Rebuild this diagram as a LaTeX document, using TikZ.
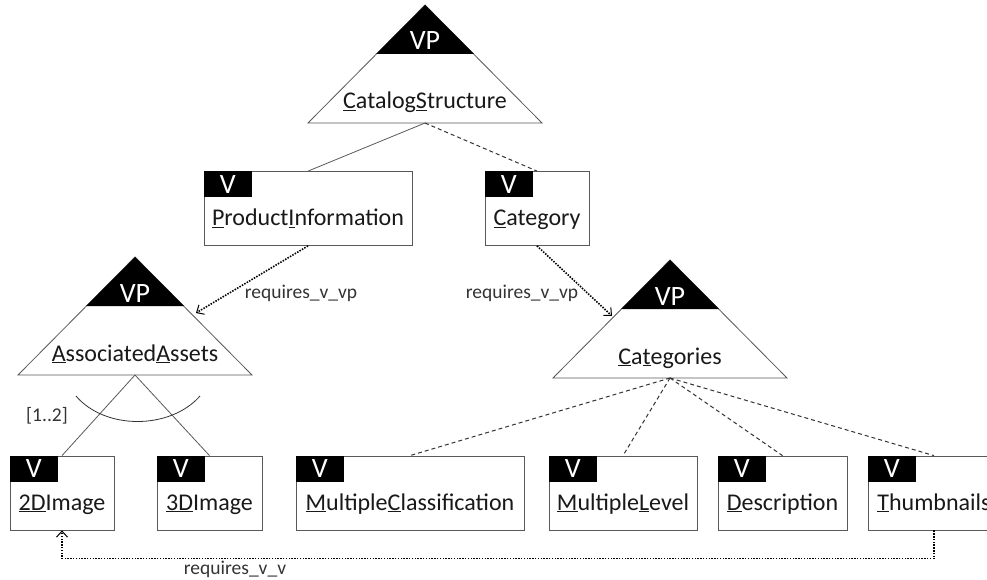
\documentclass[tikz,border=0pt]{standalone}
\usepackage{fontspec}
\setmainfont{Carlito}
\usetikzlibrary{arrows.meta,calc}

\newcommand{\ulc}[1]{\underline{#1}}
% variation point: triangle with black VP cap, apex at (#2,#3)
\newcommand{\vpnode}[4]{%
  \coordinate (#1) at (#2,#3);
  \coordinate (#1Base) at ($(#1)+(0,118)$);
  \coordinate (#1Left) at ($(#1)+(-58,56)$);
  \coordinate (#1Right) at ($(#1)+(61,56)$);
  \draw[edge,fill=white] (#1) -- ++(-117,118) -- ++(234,0) -- cycle;
  \fill[black] (#1) -- ++(-49,49) -- ++(98,0) -- cycle;
  \node[vptext] (#1VP) at ($(#1)+(0,45)$) {VP};
  \node[nametext] (#1Name) at ($(#1)+(0,104)$) {#4};
}

\tikzset{
  edge/.style={draw=black!65, line width=0.8pt},
  optional/.style={draw=black!80, line width=1pt, dash pattern=on 4pt off 3pt},
  requires/.style={black, line width=1.6pt, dash pattern=on 1.5pt off 1.3pt, -{Straight Barb[length=6pt,width=11pt,line width=1pt]}},
  vptext/.style={anchor=base, text=white, inner sep=0, font=\fontsize{28}{28}\selectfont},
  nametext/.style={anchor=base, inner sep=0, text=black!90, font=\fontsize{24}{24}\selectfont},
  varbox/.style={draw=black!65, line width=0.8pt, fill=white, inner xsep=4pt, inner ysep=0pt,
    text height=54pt, text depth=20pt, text=black!90, font=\fontsize{24}{24}\selectfont},
  vtab/.style={anchor=north west, fill=black, text=white, minimum width=48pt, minimum height=26pt,
    inner sep=0, font=\fontsize{28}{28}\selectfont},
  reqlabel/.style={text=black!80, inner sep=0, font=\fontsize{19.5}{19.5}\selectfont},
}

\begin{document}
\begin{tikzpicture}[x=1pt,y=-1pt]
\clip (0,0) rectangle (987,580);

\vpnode{Catalog}{425}{5}{\ulc{C}atalog\ulc{S}tructure}
\vpnode{Assets}{135}{257}{\ulc{A}ssociated\ulc{A}ssets}
\vpnode{Categories}{670}{260}{\ulc{C}a\ulc{t}egories}

\node[varbox, minimum width=208pt] (ProductInfo) at (308,208.5) {\ulc{P}roduct\ulc{I}nformation};
\node[varbox, minimum width=104pt] (Category) at (537,208.5) {\ulc{C}ategory};
\node[varbox, minimum width=104pt] (Image2D) at (62,493) {\ulc{2D}Image};
\node[varbox, minimum width=105pt] (Image3D) at (209.5,493) {\ulc{3D}Image};
\node[varbox, minimum width=228pt] (MultiClass) at (410,493) {\ulc{M}ultiple\ulc{C}lassification};
\node[varbox, minimum width=148pt] (MultiLevel) at (623,493) {\ulc{M}ultiple\ulc{L}evel};
\node[varbox, minimum width=129pt] (Description) at (782.5,493) {\ulc{D}escription};
\node[varbox, minimum width=132pt] (Thumbnails) at (934,493) {\ulc{T}humbnails};

\foreach \b in {ProductInfo,Category,Image2D,Image3D,MultiClass,MultiLevel,Description,Thumbnails}
  \node[vtab] (\b Tab) at (\b.north west) {V};

\draw[edge] (CatalogBase) -- (ProductInfo.north);
\draw[optional] (CatalogBase) -- (Category.north);
\draw[edge] (AssetsBase) -- (Image2D.north);
\draw[edge] (AssetsBase) -- (Image3D.north);
\draw[black!80, line width=0.8pt] (76,396) .. controls (105,430) and (170,430) .. (200,396);
\node[reqlabel] (Card) at (47,416) {[1..2]};
\foreach \b in {MultiClass,MultiLevel,Description,Thumbnails}
  \draw[optional] (CategoriesBase) -- (\b.north);

\draw[requires] (ProductInfo.south) -- (AssetsRight);
\draw[requires] (Category.south) -- (CategoriesLeft);
\draw[requires] (Thumbnails.south) -- ++(0,28) -| (Image2D.south);
\node[reqlabel] (ReqVP1) at (301,293) {requires\_v\_vp};
\node[reqlabel] (ReqVP2) at (522,293) {requires\_v\_vp};
\node[reqlabel] (ReqVV) at (235,569) {requires\_v\_v};

\end{tikzpicture}
\end{document}
